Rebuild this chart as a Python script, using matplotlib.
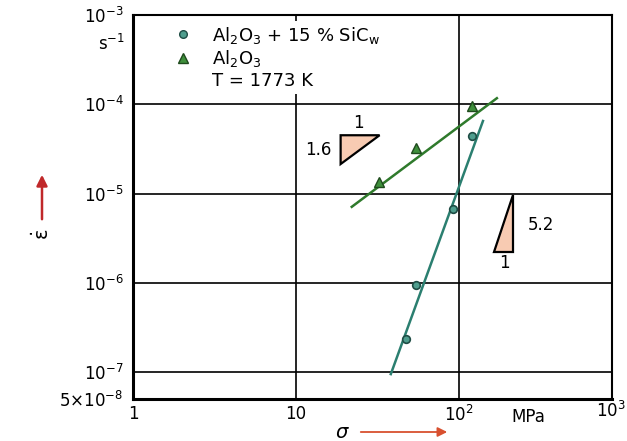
"""
Creep rate vs stress, Al2O3 and Al2O3 + SiC whiskers (log-log)
"""
import matplotlib
matplotlib.use('Agg')
import matplotlib.pyplot as plt
from matplotlib.lines import Line2D

# data
comp_sigma = [47.2, 54.4, 91.8, 120.0]
comp_rate = [2.35e-7, 9.5e-7, 6.8e-6, 4.4e-5]
comp_fit_sigma = [38.2, 140.5]
comp_fit_rate = [9.5e-8, 6.5e-5]

mono_sigma = [32.2, 54.4, 120.0]
mono_rate = [1.35e-5, 3.24e-5, 9.5e-5]
mono_fit_sigma = [22.0, 171.0]
mono_fit_rate = [7.1e-6, 1.17e-4]

# slope triangles (sigma, rate)
tri1_x = [18.8, 32.6, 18.8]
tri1_y = [4.5e-5, 4.5e-5, 2.14e-5]
tri2_x = [164.0, 215.0, 215.0]
tri2_y = [2.19e-6, 2.19e-6, 9.6e-6]

yticks = [5e-8, 1e-7, 1e-6, 1e-5, 1e-4, 1e-3]
ylabels = [r'5$\times$10$^{\mathregular{-8}}$', r'10$^{\mathregular{-7}}$',
           r'10$^{\mathregular{-6}}$', r'10$^{\mathregular{-5}}$',
           r'10$^{\mathregular{-4}}$', r'10$^{\mathregular{-3}}$']
xticks = [1, 10, 100]
xlabels = ['1', '10', r'10$^{\mathregular{2}}$']

plt.rcParams['font.family'] = ['DejaVu Sans']
plt.rcParams['mathtext.default'] = 'regular'
fs = 12

fig = plt.figure(figsize=(6.27, 4.41), dpi=100)
ax = fig.add_axes([133 / 627, 42 / 441, 479 / 627, 384 / 441])
ax.set_xscale('log')
ax.set_yscale('log')
ax.set_xlim(1, 870)
ax.set_ylim(5e-8, 1e-3)

ax.set_xticks(xticks)
ax.set_xticklabels(xlabels, fontsize=fs)
ax.set_yticks(yticks)
ax.set_yticklabels(ylabels, fontsize=fs)
ax.minorticks_off()
ax.tick_params(axis='y', length=0, pad=7)
ax.tick_params(axis='x', length=0, pad=4)
ax.grid(True, color='black', lw=1.2)
ax.set_axisbelow(True)
for s in ax.spines.values():
    s.set_linewidth(1.5)
ax.spines['left'].set_linewidth(2.2)
ax.spines['bottom'].set_linewidth(2.2)

ax.plot(comp_fit_sigma, comp_fit_rate, color='#2b7f70', lw=1.8, zorder=3)
ax.plot(comp_sigma, comp_rate, 'o', ms=5.5, mfc='#4f9e8e', mec='#1f4d45',
        mew=1.2, zorder=4)
ax.plot(mono_fit_sigma, mono_fit_rate, color='#2f7a2c', lw=1.8, zorder=3)
ax.plot(mono_sigma, mono_rate, '^', ms=6.5, mfc='#3f8f3c', mec='#1f4a1d',
        mew=1.0, zorder=4)

ax.fill(tri1_x, tri1_y, fc='#f8cbb2', ec='black', lw=1.6, zorder=3)
ax.fill(tri2_x, tri2_y, fc='#f8cbb2', ec='black', lw=1.6, zorder=3)
ax.text(24.3, 6.2e-5, '1', fontsize=fs, ha='center', va='center')
ax.text(13.7, 3.1e-5, '1.6', fontsize=fs, ha='center', va='center')
ax.text(320, 4.5e-6, '5.2', fontsize=fs, ha='center', va='center')
ax.text(189, 1.66e-6, '1', fontsize=fs, ha='center', va='center')

# units and axis labels
fig.text(626 / 627, 1 - 411 / 441, r'10$^{\mathregular{3}}$', fontsize=fs,
         ha='right', va='center')
ax.text(265, 3.15e-8, 'MPa', fontsize=fs, ha='center', va='center',
        clip_on=False)
fig.text(125 / 627, 1 - 44 / 441, r's$^{\mathregular{-1}}$', fontsize=fs,
         ha='right', va='center')

fig.text(342 / 627, 1 - 432 / 441, r'$\sigma$', fontsize=14,
         ha='center', va='center', style='italic')
fig.add_artist(plt.Annotation('', xy=(450 / 627, 1 - 432 / 441),
                              xytext=(358 / 627, 1 - 432 / 441),
                              xycoords='figure fraction',
                              arrowprops=dict(arrowstyle='-|>', color='#d8502f',
                                              lw=1.3, mutation_scale=14)))
fig.add_artist(plt.Annotation('', xy=(42 / 627, 1 - 172 / 441),
                              xytext=(42 / 627, 1 - 222 / 441),
                              xycoords='figure fraction',
                              arrowprops=dict(arrowstyle='-|>', color='#c0282a',
                                              lw=1.8, mutation_scale=16)))
fig.text(42 / 627, 1 - 234 / 441, r'$\dot{\varepsilon}$', fontsize=14,
         ha='center', va='center', rotation=90)

handles = [Line2D([], [], ls='none', marker='o', ms=5.5, mfc='#4f9e8e',
                  mec='#1f4d45'),
           Line2D([], [], ls='none', marker='^', ms=6.5, mfc='#3f8f3c',
                  mec='#1f4a1d'),
           Line2D([], [], ls='none')]
labels = [r'Al$_2$O$_3$ + 15 % SiC$_\mathregular{w}$', r'Al$_2$O$_3$',
          'T = 1773 K']
leg = ax.legend(handles, labels, loc='upper left',
                bbox_to_anchor=(0.06, 1.008), frameon=True, fancybox=False,
                edgecolor='none', facecolor='white', framealpha=1,
                fontsize=13, handletextpad=1.1, labelspacing=0.15,
                borderpad=0.2, handlelength=1.0)
leg.set_zorder(2.4)  # keep the top spine visible over the legend patch

fig.savefig('out.png', dpi=100)
